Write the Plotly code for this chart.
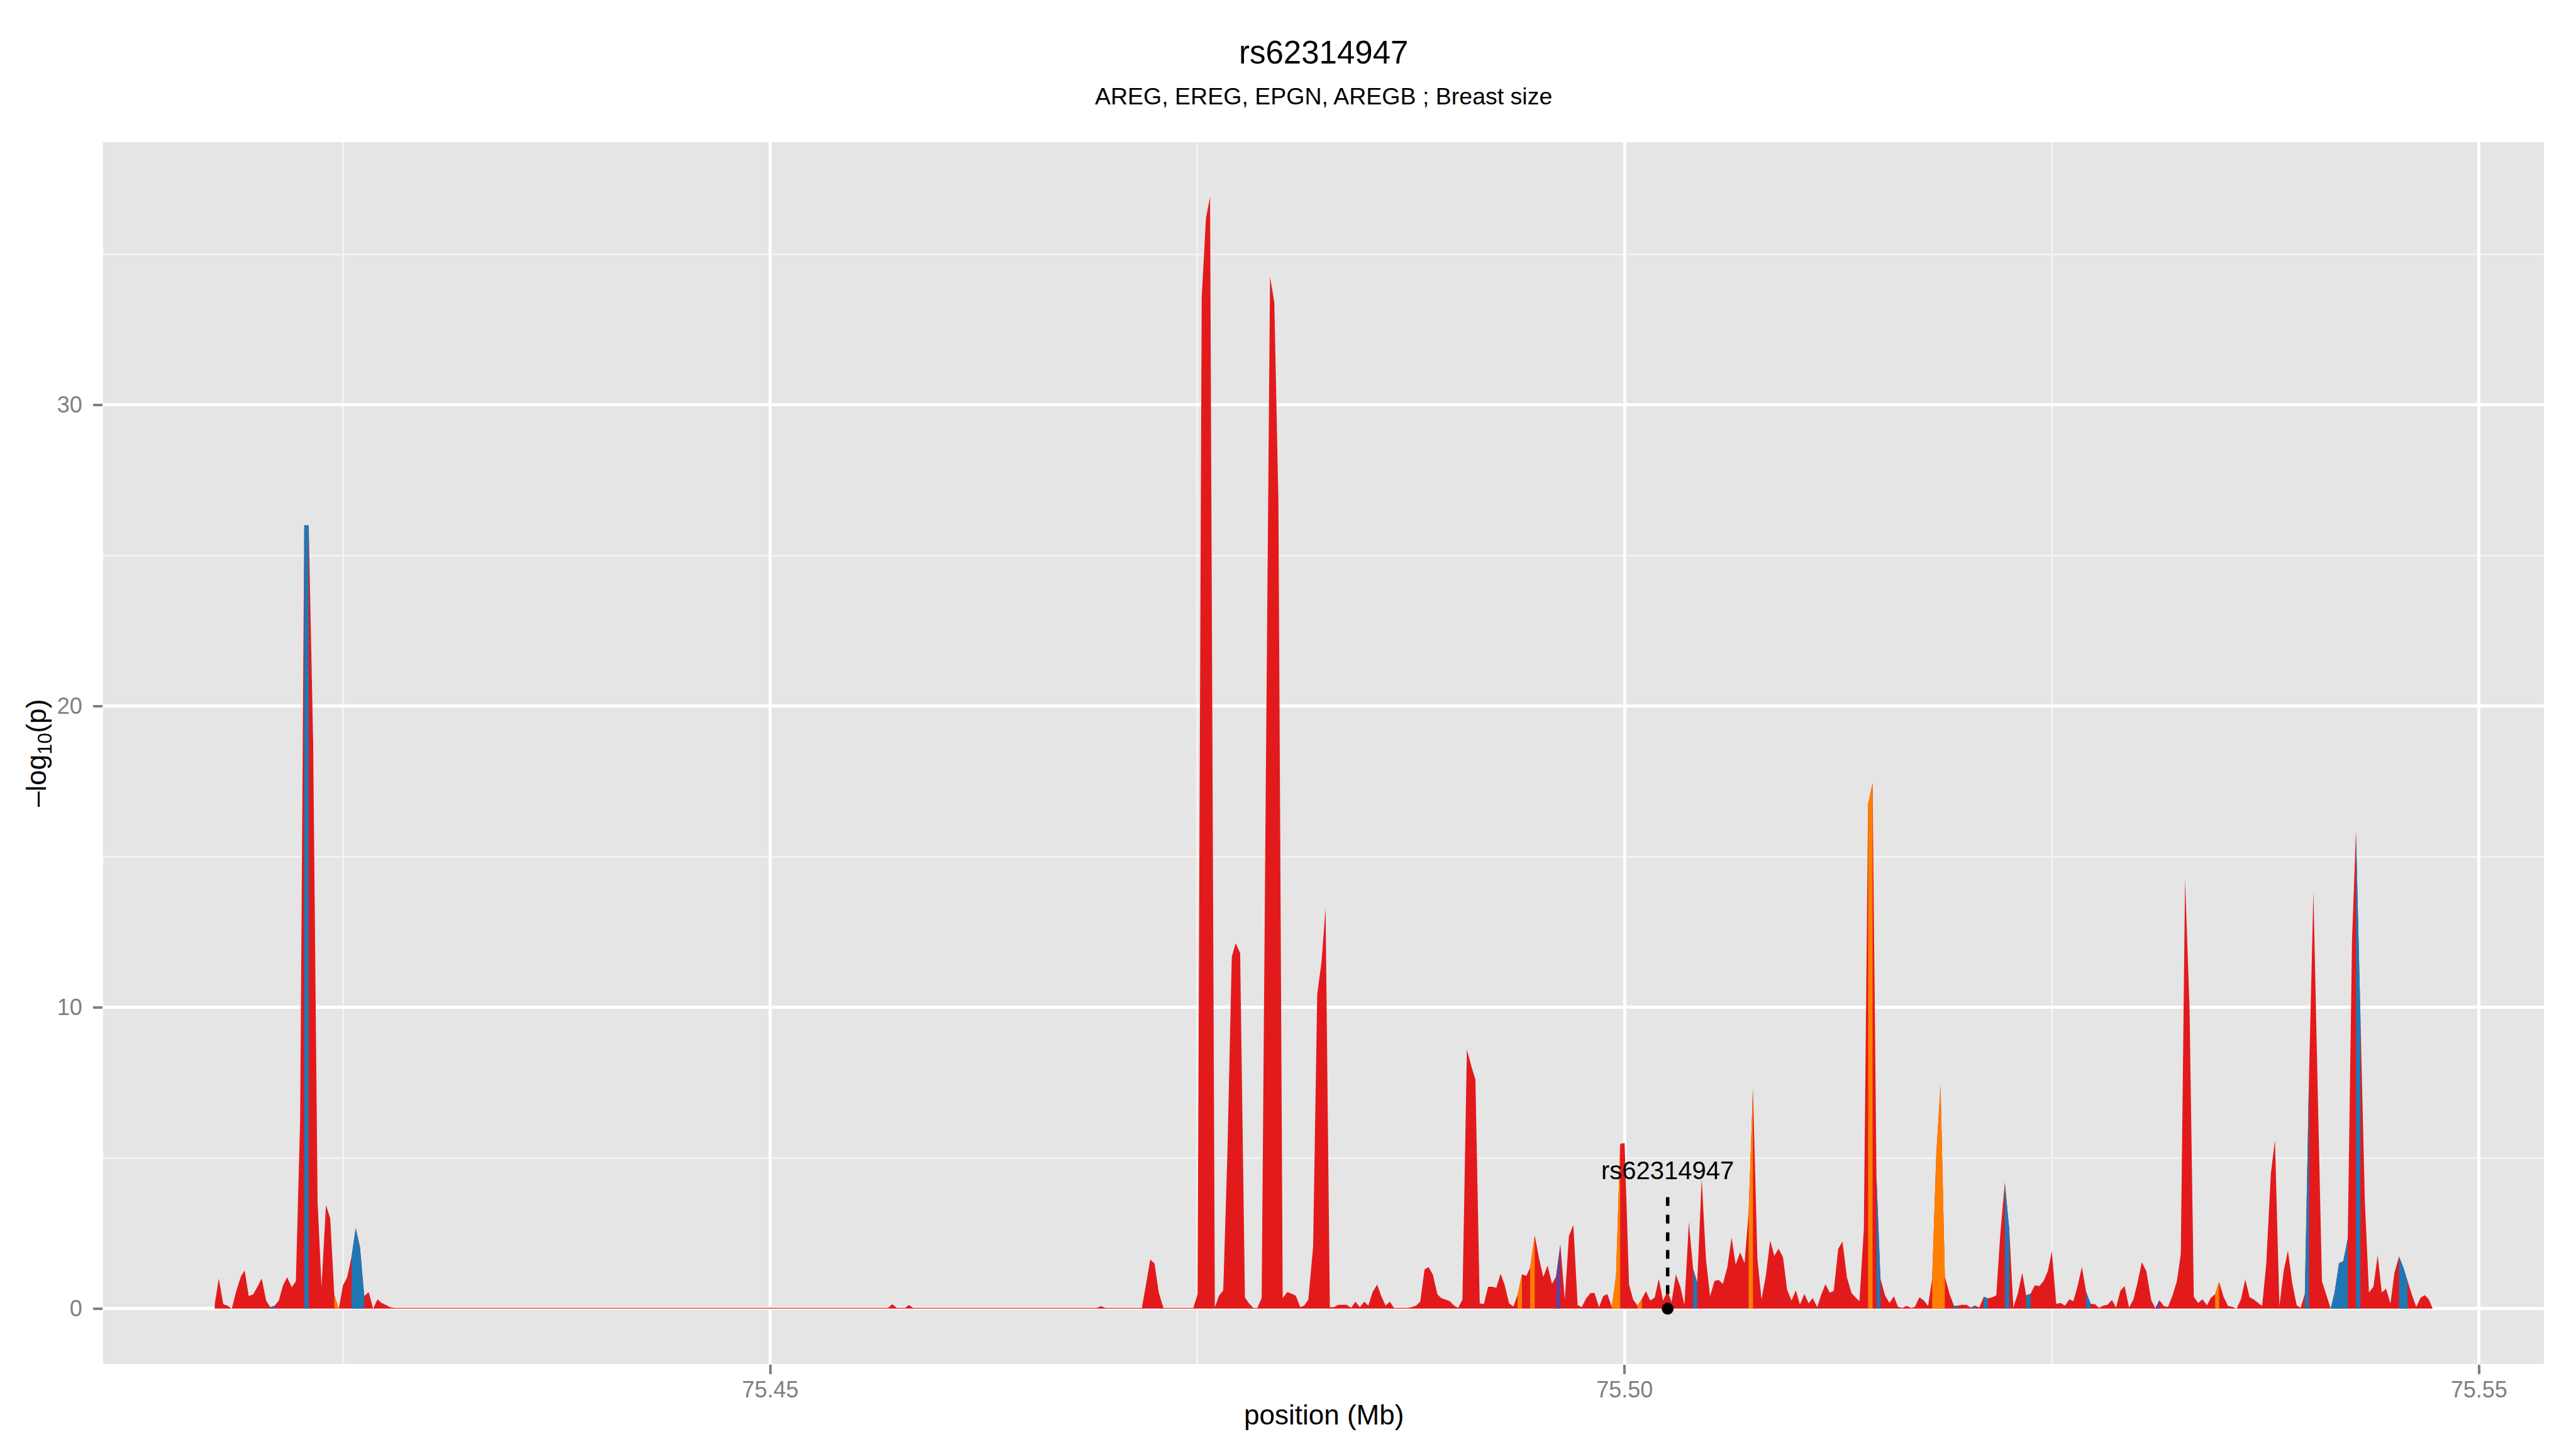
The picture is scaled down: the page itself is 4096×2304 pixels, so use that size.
import plotly.graph_objects as go

# ---------------- data ----------------
pos_mb = [
    # left cluster
    75.41749, 75.41773, 75.41799, 75.41823, 75.41849, 75.41875, 75.41901, 75.41924, 75.41948, 75.41974,
    75.41999, 75.42024, 75.42050, 75.42074, 75.42100, 75.42124, 75.42149, 75.42173, 75.42200, 75.42224,
    75.42249, 75.42273, 75.42299, 75.42325, 75.42351, 75.42374, 75.42400, 75.42425, 75.42449, 75.42475,
    75.42500, 75.42524, 75.42550, 75.42574, 75.42599, 75.42624, 75.42650, 75.42676, 75.42702, 75.42723,
    75.42749, 75.42775, 75.42802,
    # flat stretch
    75.43200, 75.44000, 75.45000, 75.45690, 75.45714, 75.45740, 75.45790, 75.45811, 75.45836, 75.46500,
    75.46910, 75.46936, 75.46961, 75.47150,
    # 75.471 - 75.492
    75.47175, 75.47199, 75.47224, 75.47249, 75.47273, 75.47301, 75.47400, 75.47476, 75.47501, 75.47525,
    75.47550, 75.47574, 75.47602, 75.47626, 75.47651, 75.47675, 75.47701, 75.47724, 75.47750, 75.47778,
    75.47801, 75.47827, 75.47851, 75.47876, 75.47900, 75.47925, 75.47950, 75.47974, 75.47999, 75.48026,
    75.48051, 75.48076, 75.48102, 75.48125, 75.48149, 75.48177, 75.48201, 75.48226, 75.48250, 75.48275,
    75.48299, 75.48324, 75.48348, 75.48374, 75.48399, 75.48425, 75.48451, 75.48476, 75.48500, 75.48525,
    75.48552, 75.48575, 75.48601, 75.48626, 75.48650, 75.48675, 75.48703, 75.48727, 75.48752, 75.48780,
    75.48804, 75.48829, 75.48853, 75.48878, 75.48904, 75.48927, 75.48953, 75.48977, 75.49002, 75.49026,
    75.49051, 75.49077, 75.49103, 75.49127, 75.49152, 75.49176, 75.49201, 75.49226,
    # 75.492 - 75.512
    75.49249, 75.49274, 75.49297, 75.49324, 75.49349, 75.49374, 75.49399, 75.49425, 75.49447, 75.49474,
    75.49500, 75.49524, 75.49549, 75.49575, 75.49599, 75.49624, 75.49650, 75.49674, 75.49700, 75.49725,
    75.49749, 75.49775, 75.49800, 75.49824, 75.49850, 75.49875, 75.49899, 75.49925, 75.49950, 75.49974,
    75.50000, 75.50026, 75.50050, 75.50075, 75.50101, 75.50125, 75.50150, 75.50176, 75.50200, 75.50225,
    75.50251, 75.50275, 75.50300, 75.50326, 75.50350, 75.50376, 75.50401, 75.50425, 75.50451, 75.50476,
    75.50500, 75.50526, 75.50551, 75.50575, 75.50601, 75.50626, 75.50650, 75.50676, 75.50702, 75.50726,
    75.50751, 75.50777, 75.50801, 75.50826, 75.50852, 75.50876, 75.50901, 75.50927, 75.50951, 75.50977,
    75.51002, 75.51026, 75.51052, 75.51077, 75.51101, 75.51127, 75.51152,
    # 75.512 - 75.531
    75.51175, 75.51201, 75.51224, 75.51250, 75.51275, 75.51301, 75.51327, 75.51350, 75.51374, 75.51400,
    75.51425, 75.51451, 75.51474, 75.51497, 75.51524, 75.51550, 75.51576, 75.51600, 75.51626, 75.51650,
    75.51676, 75.51699, 75.51725, 75.51750, 75.51776, 75.51800, 75.51824, 75.51849, 75.51874, 75.51901,
    75.51927, 75.51949, 75.51975, 75.52001, 75.52025, 75.52050, 75.52076, 75.52102, 75.52125, 75.52151,
    75.52175, 75.52199, 75.52225, 75.52251, 75.52275, 75.52301, 75.52327, 75.52350, 75.52376, 75.52401,
    75.52427, 75.52451, 75.52477, 75.52500, 75.52526, 75.52552, 75.52577, 75.52603, 75.52626, 75.52650,
    75.52676, 75.52701, 75.52727, 75.52753, 75.52776, 75.52802, 75.52826, 75.52852, 75.52876, 75.52902,
    75.52926, 75.52952, 75.52978, 75.53001, 75.53027, 75.53053,
    # 75.531 - end
    75.53082, 75.53106, 75.53130, 75.53157, 75.53180, 75.53206, 75.53232, 75.53255, 75.53280, 75.53306,
    75.53331, 75.53356, 75.53382, 75.53408, 75.53431, 75.53456, 75.53479, 75.53505, 75.53531, 75.53558,
    75.53581, 75.53607, 75.53632, 75.53658, 75.53681, 75.53707, 75.53731, 75.53755, 75.53782, 75.53806,
    75.53832, 75.53857, 75.53882, 75.53907, 75.53933, 75.53956, 75.53981, 75.54005, 75.54031, 75.54056,
    75.54081, 75.54107, 75.54132, 75.54155, 75.54181, 75.54206, 75.54232, 75.54257, 75.54280, 75.54306,
    75.54332, 75.54356, 75.54382, 75.54407, 75.54431, 75.54456, 75.54482, 75.54505, 75.54532, 75.54558,
    75.54582, 75.54608, 75.54633, 75.54658, 75.54683, 75.54706, 75.54729,
]

neglog10p = [
    0.15, 1.00, 0.15, 0.10, 0.00, 0.58, 1.05, 1.27, 0.42, 0.47,
    0.73, 1.00, 0.27, 0.05, 0.10, 0.27, 0.78, 1.04, 0.71, 0.91,
    6.27, 26.0, 26.0, 18.8, 3.55, 0.73, 3.44, 3.00, 0.45, 0.00,
    0.78, 1.04, 1.73, 2.67, 2.05, 0.42, 0.55, 0.00, 0.31, 0.20,
    0.13, 0.05, 0.03,
    0.03, 0.03, 0.03, 0.03, 0.15, 0.03, 0.03, 0.12, 0.03, 0.03,
    0.03, 0.08, 0.03, 0.03,
    0.03, 0.80, 1.63, 1.50, 0.55, 0.03, 0.03, 0.03, 0.48, 33.55,
    36.20, 36.90, 0.05, 0.43, 0.60, 5.05, 11.68, 12.13, 11.80, 0.38,
    0.18, 0.03, 0.03, 0.35, 17.30, 34.25, 33.40, 26.80, 0.35, 0.55,
    0.50, 0.43, 0.05, 0.10, 0.30, 2.05, 10.43, 11.50, 13.30, 0.05,
    0.05, 0.13, 0.13, 0.13, 0.03, 0.23, 0.05, 0.23, 0.10, 0.55,
    0.80, 0.43, 0.10, 0.23, 0.03, 0.03, 0.03, 0.03, 0.05, 0.10,
    0.23, 1.30, 1.38, 1.13, 0.48, 0.35, 0.30, 0.25, 0.10, 0.03,
    0.30, 8.60, 8.05, 7.60, 0.18, 0.15, 0.73, 0.73,
    0.69, 1.16, 0.81, 0.18, 0.07, 0.46, 1.14, 1.09, 1.36, 2.43,
    1.65, 1.05, 1.43, 0.82, 1.07, 2.12, 0.30, 2.41, 2.78, 0.12,
    0.05, 0.34, 0.52, 0.52, 0.05, 0.42, 0.48, 0.06, 1.10, 5.47,
    5.50, 0.80, 0.30, 0.10, 0.32, 0.58, 0.27, 0.37, 0.99, 0.27,
    0.58, 0.22, 1.14, 0.73, 0.12, 2.87, 1.31, 0.88, 4.32, 1.65,
    0.41, 0.92, 0.95, 0.82, 1.37, 2.36, 1.46, 1.87, 1.51, 3.21,
    7.31, 1.68, 0.31, 1.07, 2.26, 1.75, 1.99, 1.71, 0.63, 0.27,
    0.61, 0.14, 0.49, 0.18, 0.35, 0.05, 0.49,
    0.81, 0.53, 0.59, 1.98, 2.23, 1.04, 0.53, 0.38, 0.25, 2.63,
    16.75, 17.44, 4.38, 1.00, 0.44, 0.19, 0.41, 0.06, 0.03, 0.09,
    0.03, 0.06, 0.38, 0.28, 0.09, 1.00, 5.13, 7.41, 1.06, 0.50,
    0.10, 0.10, 0.13, 0.13, 0.04, 0.10, 0.04, 0.40, 0.34, 0.38,
    0.44, 2.50, 4.19, 2.63, 0.04, 0.50, 1.19, 0.44, 0.50, 0.78,
    0.75, 0.91, 1.25, 1.91, 0.16, 0.19, 0.10, 0.31, 0.25, 0.73,
    1.38, 0.56, 0.16, 0.15, 0.03, 0.10, 0.13, 0.29, 0.04, 0.60,
    0.75, 0.04, 0.31, 0.85, 1.54, 1.25,
    0.28, 0.02, 0.28, 0.08, 0.06, 0.43, 0.91, 1.82, 14.26, 10.00,
    0.40, 0.19, 0.31, 0.11, 0.36, 0.48, 0.89, 0.40, 0.09, 0.06,
    0.00, 0.31, 0.97, 0.38, 0.31, 0.19, 0.09, 1.48, 4.49, 5.59,
    0.09, 1.25, 1.93, 0.85, 0.11, 0.03, 0.49, 7.65, 13.83, 7.30,
    0.91, 0.45, 0.00, 0.54, 1.51, 1.58, 2.33, 12.25, 15.85, 9.70,
    3.56, 0.54, 0.72, 1.77, 0.54, 0.66, 0.17, 1.19, 1.73, 1.36,
    0.91, 0.45, 0.06, 0.36, 0.45, 0.31, 0.00,
]

# r = red, b = blue, o = orange, p = purple
snp_class = [
    "r", "r", "r", "r", "r", "r", "r", "r", "r", "r",
    "r", "r", "r", "b", "b", "r", "r", "r", "r", "r",
    "r", "b", "b", "r", "r", "r", "r", "r", "o", "o",
    "r", "r", "b", "b", "b", "b", "r", "r", "r", "r",
    "r", "r", "r",
    "r", "r", "r", "r", "r", "r", "r", "r", "r", "r",
    "r", "r", "r", "r",
    "r", "r", "r", "r", "r", "r", "r", "r", "r", "r",
    "r", "r", "r", "r", "r", "r", "r", "r", "r", "r",
    "r", "r", "r", "r", "r", "r", "r", "r", "r", "r",
    "r", "r", "r", "r", "r", "r", "r", "r", "r", "r",
    "r", "r", "r", "r", "r", "r", "r", "r", "r", "r",
    "r", "r", "r", "r", "r", "r", "r", "r", "r", "r",
    "r", "r", "r", "r", "r", "r", "r", "r", "r", "r",
    "r", "r", "r", "r", "r", "r", "r", "r",
    "r", "r", "r", "r", "r", "o", "o", "r", "o", "o",
    "r", "r", "r", "r", "p", "p", "r", "r", "r", "r",
    "r", "r", "r", "r", "r", "r", "r", "o", "o", "o",
    "r", "r", "r", "o", "o", "r", "r", "r", "r", "r",
    "r", "r", "r", "r", "r", "r", "b", "b", "r", "r",
    "r", "r", "r", "r", "r", "r", "r", "r", "r", "o",
    "o", "r", "r", "r", "r", "r", "r", "r", "r", "r",
    "r", "r", "r", "r", "r", "r", "r",
    "r", "r", "r", "r", "r", "r", "r", "r", "r", "r",
    "o", "o", "b", "b", "r", "r", "r", "r", "r", "r",
    "r", "r", "r", "r", "r", "o", "o", "o", "o", "r",
    "b", "b", "r", "r", "b", "b", "r", "b", "b", "r",
    "r", "r", "b", "b", "r", "r", "r", "b", "b", "r",
    "r", "r", "r", "r", "r", "r", "r", "r", "r", "r",
    "r", "b", "b", "r", "r", "r", "r", "r", "r", "r",
    "r", "r", "r", "r", "r", "r",
    "r", "p", "p", "r", "r", "r", "r", "r", "r", "r",
    "r", "r", "r", "r", "r", "o", "o", "r", "r", "r",
    "r", "r", "r", "r", "r", "r", "r", "r", "r", "r",
    "r", "r", "r", "r", "r", "r", "b", "b", "r", "r",
    "r", "r", "b", "b", "b", "b", "b", "r", "b", "b",
    "r", "r", "r", "r", "r", "r", "r", "r", "b", "b",
    "b", "r", "r", "r", "r", "r", "r",
]

lead_snp_pos = 75.50252
lead_snp_name = "rs62314947"
lead_snp_line_top = 3.70
lead_snp_label_y = 4.59

title_text = "rs62314947"
subtitle_text = "AREG, EREG, EPGN, AREGB ; Breast size"
x_tick_vals = [75.45, 75.50, 75.55]
x_tick_text = ["75.45", "75.50", "75.55"]
x_minor_vals = [75.425, 75.475, 75.525]
y_tick_vals = [0, 10, 20, 30]
y_tick_text = ["0", "10", "20", "30"]
y_minor_vals = [5, 15, 25, 35]

assert len(pos_mb) == len(neglog10p) == len(snp_class), (len(pos_mb), len(neglog10p), len(snp_class))

CLASS_COLORS = {"r": "#E31A1C", "b": "#1F78B4", "o": "#FF7F00", "p": "#6A3D9A"}
FONT = "Liberation Sans, Arial, Helvetica, sans-serif"
GREY = "#7F7F7F"

fig = go.Figure()

# main (red) area over all SNPs
fig.add_trace(go.Scatter(
    x=pos_mb, y=neglog10p, mode="lines", fill="tozeroy",
    fillcolor=CLASS_COLORS["r"], line=dict(width=0, color=CLASS_COLORS["r"]),
    hoverinfo="skip", showlegend=False,
))

# coloured sub-areas for runs of the other classes
n = len(pos_mb)
for cls in ["b", "o", "p"]:
    xs, ys = [], []
    i = 0
    while i < n:
        if snp_class[i] == cls:
            j = i
            while j + 1 < n and snp_class[j + 1] == cls:
                j += 1
            xs += pos_mb[i:j + 1] + [pos_mb[j], pos_mb[i], None]
            ys += neglog10p[i:j + 1] + [0, 0, None]
            i = j + 1
        else:
            i += 1
    fig.add_trace(go.Scatter(
        x=xs, y=ys, mode="lines", fill="toself",
        fillcolor=CLASS_COLORS[cls], line=dict(width=0, color=CLASS_COLORS[cls]),
        hoverinfo="skip", showlegend=False,
    ))

# lead SNP marker
fig.add_trace(go.Scatter(
    x=[lead_snp_pos, lead_snp_pos], y=[lead_snp_line_top, 0], mode="lines",
    line=dict(color="black", width=5.5, dash="14px,14px"),
    hoverinfo="skip", showlegend=False,
))
fig.add_trace(go.Scatter(
    x=[lead_snp_pos], y=[0], mode="markers",
    marker=dict(color="black", size=19),
    hoverinfo="skip", showlegend=False,
))

annotations = [
    dict(text=lead_snp_name, x=lead_snp_pos, y=lead_snp_label_y, xref="x", yref="y",
         showarrow=False, xanchor="center", yanchor="middle",
         font=dict(family=FONT, size=40, color="black")),
    dict(text=title_text, x=0.5, y=1.0731, xref="paper", yref="paper",
         showarrow=False, xanchor="center", yanchor="middle",
         font=dict(family=FONT, size=51, color="black")),
    dict(text=subtitle_text, x=0.5, y=1.0374, xref="paper", yref="paper",
         showarrow=False, xanchor="center", yanchor="middle",
         font=dict(family=FONT, size=37.5, color="black")),
    dict(text="position (Mb)", x=0.5, y=-0.0414, xref="paper", yref="paper",
         showarrow=False, xanchor="center", yanchor="middle",
         font=dict(family=FONT, size=44, color="black")),
    dict(text="\u2013log<sub>10</sub>(p)", x=-0.0267, y=0.5, xref="paper", yref="paper",
         showarrow=False, xanchor="center", yanchor="middle", textangle=-90,
         font=dict(family=FONT, size=44, color="black")),
]

fig.update_layout(
    width=4096, height=2304, autosize=False,
    margin=dict(l=164, r=51, t=226, b=135, pad=0),
    paper_bgcolor="white", plot_bgcolor="#E5E5E5",
    showlegend=False,
    font=dict(family=FONT),
    annotations=annotations,
    xaxis=dict(
        range=[75.41096, 75.5538], tickmode="array", tickvals=x_tick_vals, ticktext=x_tick_text,
        ticks="outside", ticklen=15, tickwidth=4, tickcolor=GREY,
        tickfont=dict(family=FONT, size=36, color=GREY), ticklabelstandoff=-6,
        showgrid=True, gridcolor="white", gridwidth=5,
        minor=dict(tickmode="array", tickvals=x_minor_vals, showgrid=True,
                   gridcolor="#F2F2F2", gridwidth=2.5, ticks=""),
        zeroline=False, showline=False,
    ),
    yaxis=dict(
        range=[-1.84, 38.72], tickmode="array", tickvals=y_tick_vals, ticktext=y_tick_text,
        ticks="outside", ticklen=15, tickwidth=4, tickcolor=GREY,
        tickfont=dict(family=FONT, size=36, color=GREY), ticklabelstandoff=10,
        showgrid=True, gridcolor="white", gridwidth=5,
        minor=dict(tickmode="array", tickvals=y_minor_vals, showgrid=True,
                   gridcolor="#F2F2F2", gridwidth=2.5, ticks=""),
        zeroline=False, showline=False,
    ),
)

fig.write_html(
    "out.html",
    config={"displayModeBar": False},
    post_script="document.body.style.margin='0px';document.body.style.padding='0px';"
                "document.body.style.overflow='hidden';",
)
